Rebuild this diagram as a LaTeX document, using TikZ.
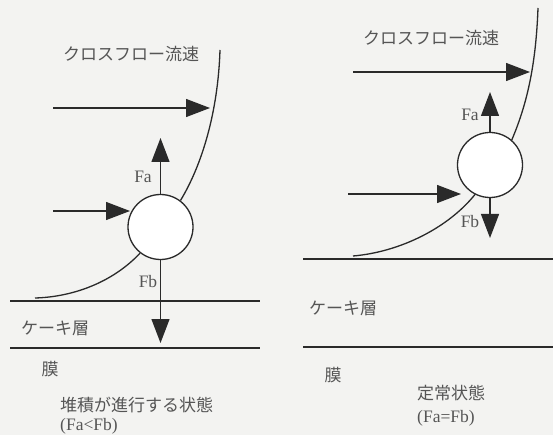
\documentclass[tikz,border=0pt]{standalone}
\usepackage{fontspec}
\setmainfont{Liberation Serif}
\newfontfamily\jp{Noto Sans CJK JP}
\usetikzlibrary{arrows.meta}
\definecolor{bgc}{HTML}{F3F3F1}
\definecolor{ink}{HTML}{2A2A2A}
\definecolor{txt}{HTML}{555555}
\tikzset{
  ln/.style={draw=ink, line width=1.3pt},
  arr/.style={ln, -{Triangle[length=24pt,width=18pt]}},
  particle/.style={circle, draw=ink, line width=1.3pt, minimum size=65pt, inner sep=0pt, fill=white},
  jlab/.style={text=txt, font=\jp\fontsize{17}{19}\selectfont, inner sep=0pt},
  llab/.style={text=txt, font=\fontsize{17.5}{19}\selectfont, inner sep=0pt},
}
\begin{document}
\begin{tikzpicture}[x=1pt,y=-1pt]
\fill[bgc] (0,0) rectangle (553,435);
\useasboundingbox (0,0) rectangle (553,435);

% ---------------- left panel ----------------
\node[particle] (cL) at (160.5,227) {};
\coordinate (cLtop) at (220,50);
\coordinate (cLend) at (35,298);
\coordinate (aL1s) at (53,108);
\coordinate (aL1e) at (210,108);
\coordinate (aL2s) at (53,211);
\coordinate (aL2e) at (130,211);
\coordinate (faL) at (160.5,138);
\coordinate (fbL) at (160.5,343);
\coordinate (l1a) at (10,301);
\coordinate (l1b) at (260,301);
\coordinate (l2a) at (10,348);
\coordinate (l2b) at (260,348);

\draw[ln] (cLtop) .. controls (218,112) and (202,165) .. (cL.53);
\draw[ln] (cL.232) .. controls (112,283) and (72,297) .. (cLend);
\draw[arr] (aL1s) -- (aL1e);
\draw[arr] (aL2s) -- (aL2e);
\draw[arr] (cL.north) -- (faL);
\draw[arr] (cL.south) -- (fbL);
\draw[ln] (l1a) -- (l1b);
\draw[ln] (l2a) -- (l2b);

\node[jlab] (tL1) at (131,54) {クロスフロー流速};
\node[llab] (faLt) at (143,177) {Fa};
\node[llab] (fbLt) at (148,282) {Fb};
\node[jlab] (tL2) at (55,328) {ケーキ層};
\node[jlab] (tL3) at (50,369) {膜};
\node[jlab, anchor=west] (tL4) at (60,405) {堆積が進行する状態};
\node[llab, anchor=west] (tL5) at (60,426) {(Fa<Fb)};

% ---------------- right panel ----------------
\node[particle] (cR) at (490,165) {};
\coordinate (cRtop) at (538,8);
\coordinate (cRend) at (353,256);
\coordinate (aR1s) at (353,72);
\coordinate (aR1e) at (530,72);
\coordinate (aR2s) at (348,194);
\coordinate (aR2e) at (461,194);
\coordinate (faR) at (490,92);
\coordinate (fbR) at (490,238);
\coordinate (r1a) at (303,259);
\coordinate (r1b) at (553,259);
\coordinate (r2a) at (303,347);
\coordinate (r2b) at (553,347);

\draw[ln] (cRtop) .. controls (536,62) and (528,102) .. (cR.49);
\draw[ln] (cR.243) .. controls (448,228) and (400,252) .. (cRend);
\draw[arr] (aR1s) -- (aR1e);
\draw[arr] (aR2s) -- (aR2e);
\draw[arr] (cR.north) -- (faR);
\draw[arr] (cR.south) -- (fbR);
\draw[ln] (r1a) -- (r1b);
\draw[ln] (r2a) -- (r2b);

\node[jlab] (tR1) at (431,38) {クロスフロー流速};
\node[llab] (faRt) at (470,115) {Fa};
\node[llab] (fbRt) at (470,222) {Fb};
\node[jlab] (tR2) at (343,308) {ケーキ層};
\node[jlab] (tR3) at (333,375) {膜};
\node[jlab, anchor=west] (tR4) at (417,393) {定常状態};
\node[llab, anchor=west] (tR5) at (417,418) {(Fa=Fb)};
\end{tikzpicture}
\end{document}
